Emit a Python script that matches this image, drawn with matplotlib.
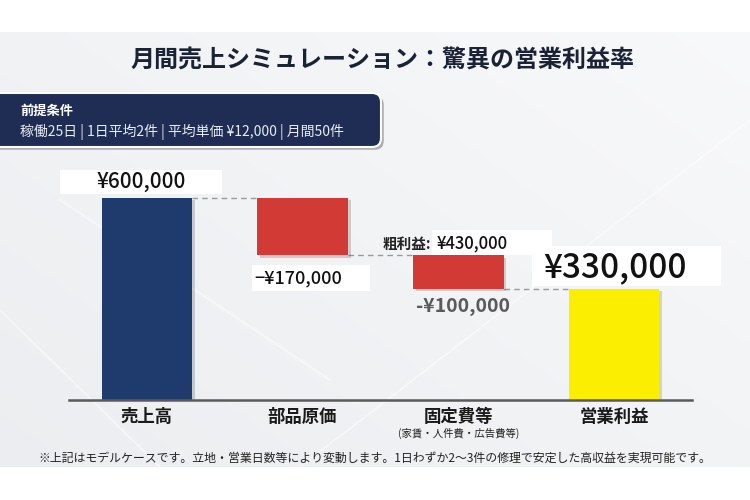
import matplotlib
matplotlib.use("Agg")
import matplotlib.pyplot as plt
import matplotlib.patches as mpatches
import matplotlib.transforms as mtransforms
import matplotlib.patheffects as pe
import numpy as np

plt.rcParams['font.family'] = ['Noto Sans CJK JP', 'DejaVu Sans']

# ---------------- data ----------------
categories = ['売上高', '部品原価', '固定費等', '営業利益']
sub_label = '(家賃・人件費・広告費等)'
sales = 600000
costs = [170000, 100000]            # parts cost, fixed costs
operating_profit = 330000
gross_profit = 430000
value_labels = ['¥600,000', '−¥170,000', '-¥100,000', '¥330,000']
gross_label_name = '粗利益:'
gross_label_value = '¥430,000'
title = '月間売上シミュレーション：驚異の営業利益率'
cond_title = '前提条件'
cond_text = '稼働25日 | 1日平均2件 | 平均単価 ¥12,000 | 月間50件'
footnote = '※上記はモデルケースです。立地・営業日数等により変動します。1日わずか2〜3件の修理で安定した高収益を実現可能です。'

colors = ['#1f3b6e', '#d23a36', '#d23a36', '#fbee00']

# waterfall geometry from data
bottoms = [0, sales - costs[0], sales - costs[0] - costs[1], 0]
heights = [sales, costs[0], costs[1], operating_profit]
levels = [sales, gross_profit, operating_profit]   # connector levels

DPI = 100
fig = plt.figure(figsize=(7.5, 5), dpi=DPI)
fig.patch.set_facecolor('white')
px = mtransforms.Affine2D().scale(1 / 100) + fig.dpi_scale_trans  # pixel units (y up)

# ---------------- background panel ----------------
bg = fig.add_axes([0, 33 / 500, 1, 435 / 500], zorder=-10)
gx, gy = np.meshgrid(np.linspace(0, 1, 200), np.linspace(0, 1, 150))
grad = 0.55 * gx + 0.45 * gy
c0 = np.array([0.925, 0.931, 0.942])
c1 = np.array([0.972, 0.975, 0.980])
img = c0[None, None, :] * (1 - grad[..., None]) + c1[None, None, :] * grad[..., None]
bg.imshow(img, origin='lower', extent=[0, 750, 33, 468], aspect='auto')
for (xa, ya, xb, yb) in [(300, 33, 750, 380), (0, 190, 160, 33), (60, 300, 330, 120)]:
    bg.plot([xa, xb], [ya, yb], color='white', lw=1.2, alpha=0.55)
bg.set_xlim(0, 750)
bg.set_ylim(33, 468)
bg.axis('off')

# ---------------- main axes ----------------
ax = fig.add_axes([69 / 750, 100 / 500, 623 / 750, 230 / 500])
ax.set_facecolor('none')
width = 0.58
x = np.arange(len(categories))
bars = ax.bar(x, heights, bottom=bottoms, width=width, color=colors,
              edgecolor='none', zorder=3)
for b in bars:
    b.set_path_effects([pe.SimplePatchShadow(offset=(2, -2), alpha=0.18), pe.Normal()])

# dashed connectors
for i, lv in enumerate(levels):
    ax.plot([x[i] + width / 2, x[i + 1] - width / 2], [lv, lv], color='#9a9a9a',
            lw=1.0, ls=(0, (4, 3)), zorder=2)

ax.set_xlim(-0.5, 3.5)
ax.set_ylim(0, 682000)
ax.axhline(0, color='#5a5a5a', lw=1.8, zorder=4, clip_on=False)
for s in ax.spines.values():
    s.set_visible(False)
ax.set_xticks([])
ax.set_yticks([])

P = 0.72  # px -> points at 100 dpi


def box(xd, yd, x0, y0, x1, y1):
    tr = mtransforms.Affine2D() + mtransforms.ScaledTranslation(xd, yd, ax.transData)
    r = mpatches.Rectangle((x0, y0), x1 - x0, y1 - y0, transform=tr,
                           facecolor='white', edgecolor='none', zorder=5, clip_on=False)
    ax.add_patch(r)


def label(txt, xd, yd, dx, dy, **kw):
    ax.annotate(txt, xy=(xd, yd), xytext=(dx * P, dy * P), textcoords='offset points',
                zorder=6, annotation_clip=False, **kw)


# category labels
for i, c in enumerate(categories):
    label(c, x[i], 0, 0, -17, ha='center', va='center', fontsize=12.5,
          fontweight='bold', color='#1a1a1a')
label(sub_label, x[2], 0, 0, -33, ha='center', va='center', fontsize=7.5, color='#222222')

# value labels
box(x[0], sales, -87, 3.7, 75, 27.7)
label(value_labels[0], x[0], sales, -6, 15.7, ha='center', va='center', fontsize=15,
      fontweight='medium', color='#111111')

box(x[1], gross_profit, -51, -36, 67, -10)
label(value_labels[1], x[1], gross_profit, -48, -23, ha='left', va='center', fontsize=13,
      fontweight='medium', color='#111111')

label(gross_label_name, x[2], gross_profit, -76, 11.3, ha='left', va='center', fontsize=10.5,
      fontweight='bold', color='#222222')
box(x[2], gross_profit, -26, 0, 94, 25)
label(gross_label_value, x[2], gross_profit, -22, 11.3, ha='left', va='center', fontsize=12,
      fontweight='medium', color='#111111')

label(value_labels[2], x[2], operating_profit, -42, -18, ha='left', va='center', fontsize=14,
      fontweight='bold', color='#5a5a5a')

box(x[3], operating_profit, -82, 2.7, 107, 42.7)
label(value_labels[3], x[3], operating_profit, 1, 21, ha='center', va='center', fontsize=24,
      fontweight='medium', color='#111111')

# ---------------- title & condition box ----------------
fig.text(382, 439, title, transform=px, ha='center', va='center', fontsize=17.3,
         fontweight='bold', color='#1b2236')

cbox = mpatches.FancyBboxPatch((-15, 353), 396, 54,
                               boxstyle='round,pad=0,rounding_size=9', transform=px,
                               facecolor='#1f2d55', edgecolor='white', lw=1.5, zorder=5)
cbox.set_path_effects([pe.SimplePatchShadow(offset=(2, -2), alpha=0.3), pe.Normal()])
fig.patches.append(cbox)
fig.text(20, 389, cond_title, transform=px, ha='left', va='center', fontsize=9.5,
         fontweight='bold', color='white', zorder=6)
fig.text(20, 368.3, cond_text, transform=px, ha='left', va='center', fontsize=10,
         color='#e8ecf4', zorder=6)

# footnote
fig.text(375, 42, footnote, transform=px, ha='center', va='center', fontsize=8.6,
         color='#222222')

fig.savefig('out.png', dpi=DPI)
